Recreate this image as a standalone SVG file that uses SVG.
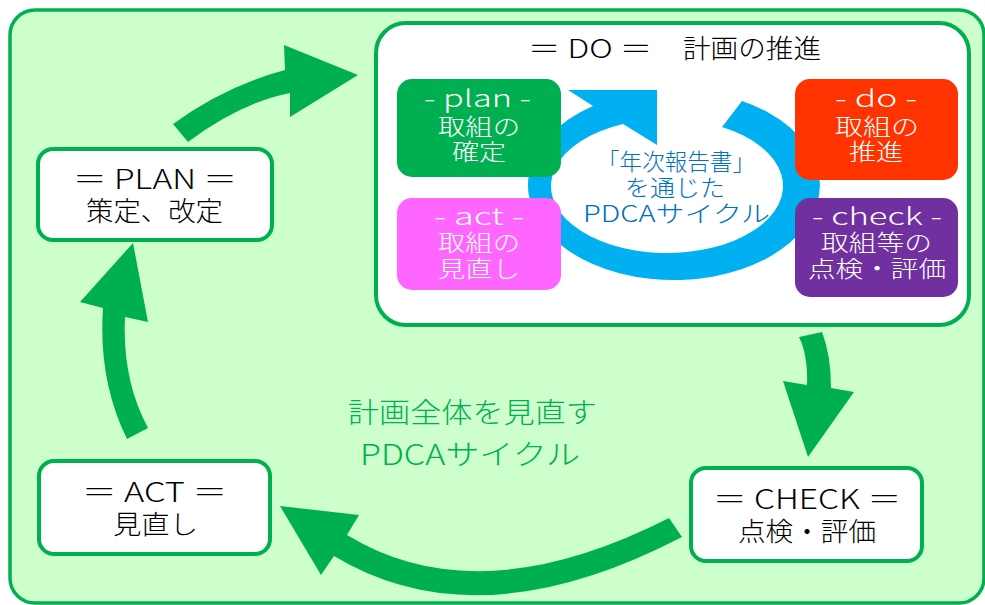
<svg xmlns="http://www.w3.org/2000/svg" width="985" height="605" viewBox="0 0 985 605">
<style>
text{font-family:"Noto Sans CJK JP","Noto Sans",sans-serif;font-weight:300;}
.box{fill:#ffffff;stroke:#00b050;stroke-width:4;}
.blk{fill:#000000;}
.wt{fill:#ffffff;font-size:23px;}
.arr{fill:#00b050;}
</style>
<rect x="10" y="10" width="974" height="593" rx="25" fill="#ccffcc" stroke="#00b050" stroke-width="3.5"/>

<g id="connectors">
<path class="arr" d="M173,124 Q225,86 285,70 L284,45 L358,75 L290,117 L290,93 Q240,103 188,142 Z"/>
<path class="arr" d="M799,337 Q808,355 807,385 L783,381 L808,457 L854,392 L831,388 Q831,355 822,332 Z"/>
<path class="arr" d="M669,518 Q478,615 347,535 L359,515 L280,506 L321,575 L334,556 Q478,643 682,537 Z"/>
<path class="arr" d="M127,439 Q98,380 103,308 L80,302 L133,243 L148,322 L125,317 Q122,380 148,428 Z"/>
</g>

<g id="plan">
<rect class="box" x="38" y="149" width="234" height="91" rx="15"/>
<text class="blk" x="73" y="189" font-size="27" textLength="164" lengthAdjust="spacingAndGlyphs">＝ PLAN ＝</text>
<text class="blk" x="86" y="221" font-size="27" textLength="137" lengthAdjust="spacingAndGlyphs">策定、改定</text>
</g>

<g id="do">
<rect class="box" x="376" y="23" width="593" height="302" rx="30"/>
<text class="blk" x="528" y="58" font-size="26" textLength="124" lengthAdjust="spacingAndGlyphs">＝ DO ＝</text>
<text class="blk" x="683" y="58" font-size="26" textLength="138" lengthAdjust="spacingAndGlyphs">計画の推進</text>
</g>

<g id="cycle-ring">
<path fill="#00b0f0" d="M722,127 L742,101 A146,95 0 1 1 593,106 L568,90 L657,90 L657,145 L623,124 A116,67 0 1 0 722,127 Z"/>
<text x="597" y="170" font-size="23" fill="#0070c0" textLength="158" lengthAdjust="spacingAndGlyphs">「年次報告書」</text>
<text x="625" y="196" font-size="23" fill="#0070c0" textLength="100" lengthAdjust="spacingAndGlyphs">を通じた</text>
<text x="583" y="222" font-size="23" fill="#0070c0" textLength="187" lengthAdjust="spacingAndGlyphs">PDCAサイクル</text>
</g>

<g id="do-plan">
<rect x="397" y="79" width="164" height="98" rx="15" fill="#00b050"/>
<text class="wt" x="424" y="107" textLength="107" lengthAdjust="spacingAndGlyphs">- plan -</text>
<text class="wt" x="438" y="135" textLength="82" lengthAdjust="spacingAndGlyphs">取組の</text>
<text class="wt" x="452" y="160" textLength="54" lengthAdjust="spacingAndGlyphs">確定</text>
</g>

<g id="do-act">
<rect x="397" y="198" width="164" height="92" rx="15" fill="#ff66ff"/>
<text class="wt" x="434" y="225" textLength="90" lengthAdjust="spacingAndGlyphs">- act -</text>
<text class="wt" x="438" y="251" textLength="82" lengthAdjust="spacingAndGlyphs">取組の</text>
<text class="wt" x="438" y="277" textLength="82" lengthAdjust="spacingAndGlyphs">見直し</text>
</g>

<g id="do-do">
<rect x="795" y="79" width="163" height="101" rx="15" fill="#ff3300"/>
<text class="wt" x="835" y="107" textLength="82" lengthAdjust="spacingAndGlyphs">- do -</text>
<text class="wt" x="835" y="135" textLength="84" lengthAdjust="spacingAndGlyphs">取組の</text>
<text class="wt" x="849" y="160" textLength="54" lengthAdjust="spacingAndGlyphs">推進</text>
</g>

<g id="do-check">
<rect x="795" y="198" width="163" height="99" rx="15" fill="#7030a0"/>
<text class="wt" x="812" y="225" textLength="130" lengthAdjust="spacingAndGlyphs">- check -</text>
<text class="wt" x="821" y="251" textLength="111" lengthAdjust="spacingAndGlyphs">取組等の</text>
<text class="wt" x="808" y="277" textLength="138" lengthAdjust="spacingAndGlyphs">点検・評価</text>
</g>

<g id="check">
<rect class="box" x="691" y="468" width="231" height="93" rx="15"/>
<text class="blk" x="713" y="509" font-size="27" textLength="188" lengthAdjust="spacingAndGlyphs">＝ CHECK ＝</text>
<text class="blk" x="738" y="541" font-size="26" textLength="138" lengthAdjust="spacingAndGlyphs">点検・評価</text>
</g>

<g id="act">
<rect class="box" x="39" y="461" width="231" height="93" rx="15"/>
<text class="blk" x="82" y="502" font-size="27" textLength="145" lengthAdjust="spacingAndGlyphs">＝ ACT ＝</text>
<text class="blk" x="113" y="534" font-size="26" textLength="85" lengthAdjust="spacingAndGlyphs">見直し</text>
</g>

<g id="cycle-label">
<text x="348" y="423" font-size="28" fill="#00b050" textLength="249" lengthAdjust="spacingAndGlyphs">計画全体を見直す</text>
<text x="360" y="465" font-size="28" fill="#00b050" textLength="220" lengthAdjust="spacingAndGlyphs">PDCAサイクル</text>
</g>
</svg>
